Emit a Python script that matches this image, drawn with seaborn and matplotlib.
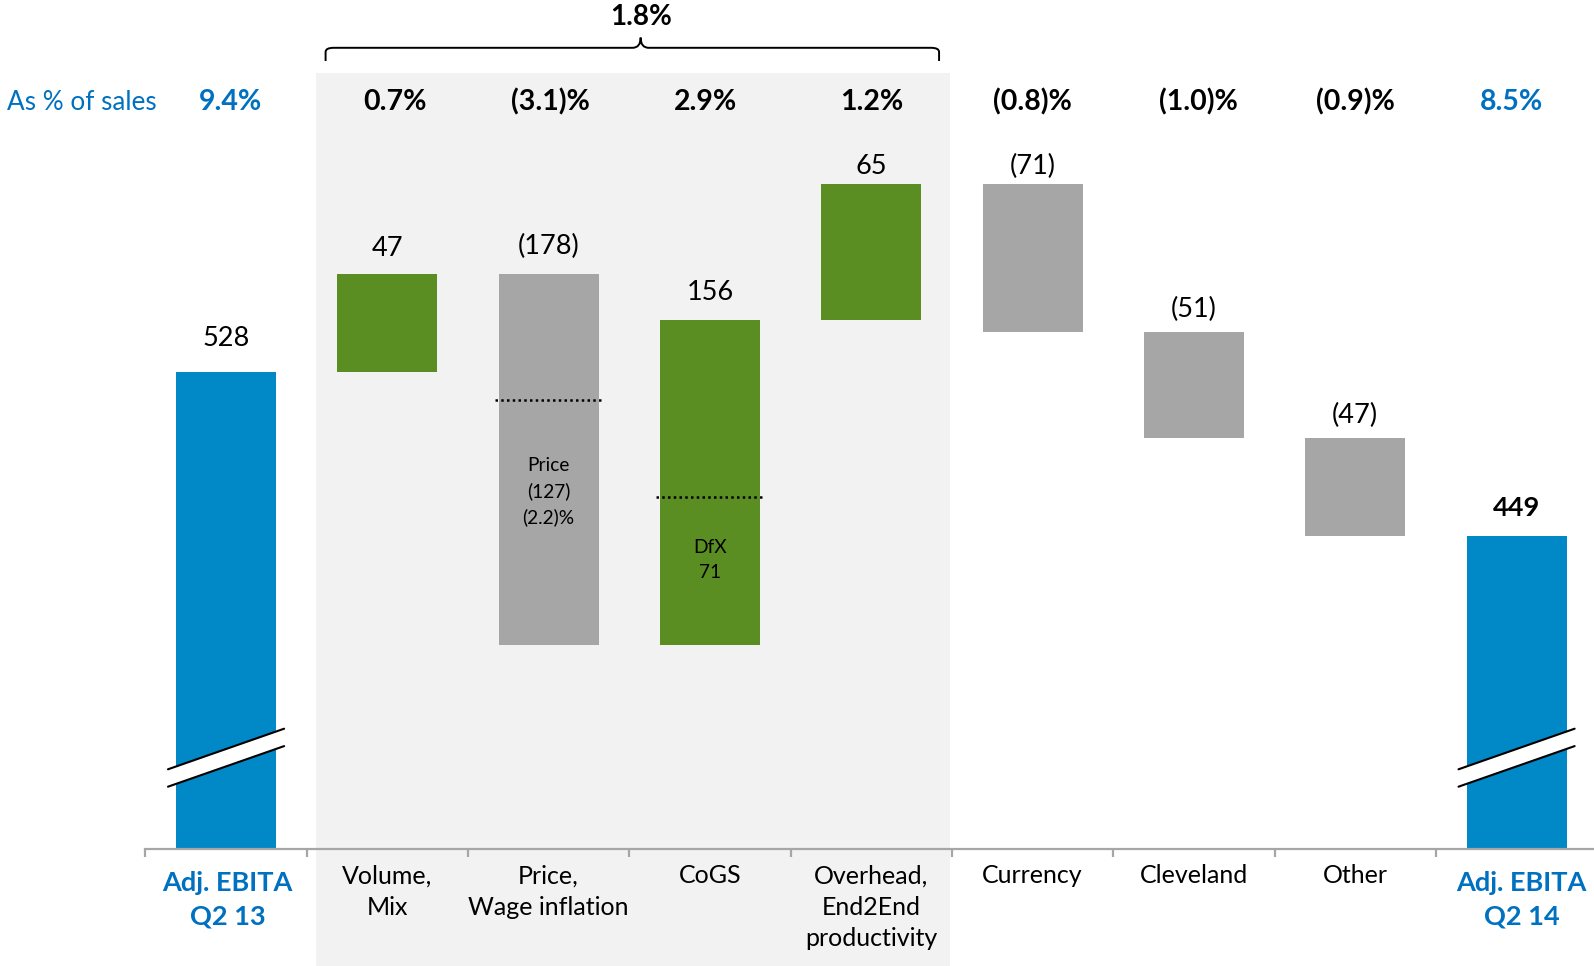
import matplotlib
matplotlib.use("Agg")
import matplotlib.pyplot as plt
import seaborn as sns
import numpy as np
import pandas as pd
from matplotlib.path import Path
from matplotlib.patches import PathPatch, Rectangle, Polygon

# ---- data ----
categories = ["Adj. EBITA\nQ2 13", "Volume,\nMix", "Price,\nWage inflation", "CoGS",
              "Overhead,\nEnd2End\nproductivity", "Currency", "Cleveland", "Other",
              "Adj. EBITA\nQ2 14"]
changes = [528, 47, -178, 156, 65, -71, -51, -47, 449]
kinds = ["total", "up", "down", "up", "up", "down", "down", "down", "total"]
value_labels = ["528", "47", "(178)", "156", "65", "(71)", "(51)", "(47)", "449"]
pct_of_sales = ["9.4%", "0.7%", "(3.1)%", "2.9%", "1.2%", "(0.8)%", "(1.0)%", "(0.9)%", "8.5%"]
group_pct = "1.8%"
price_lines = ["Price", "(127)", "(2.2)%"]
dfx_lines = ["DfX", "71"]
dfx_value = 71

# ---- colours ----
BLUE = "#0088C7"
BLUE_TXT = "#0070C0"
GREEN = "#5A8E22"
GREY = "#A6A6A6"
SHADE = "#F2F2F2"
AXIS = "#A6A6A6"
kind_color = {"total": BLUE, "up": GREEN, "down": GREY}

# waterfall bases
bases, heights = [], []
running = 0
for c, k in zip(changes, kinds):
    if k == "total":
        bases.append(0)
        heights.append(c)
        running = c
    else:
        bases.append(running)
        heights.append(c)
        running += c

df = pd.DataFrame({"step": categories, "change": heights, "base": bases})

sns.set_theme(style="white")
plt.rcParams["font.family"] = ["Lato", "DejaVu Sans"]

W, H = 1594, 966
BASE_PX = 849          # pixel row of the category axis
PPU = 2.084            # pixels per EBITA unit
Y0 = 299               # value at the (broken) baseline
Y1 = Y0 + BASE_PX / PPU


def v(y_px):
    """Convert a pixel row of the figure to a value on the y scale."""
    return Y0 + (BASE_PX - y_px) / PPU


fig = plt.figure(figsize=(W / 100, H / 100), dpi=100)
ax_left = 145.4 / W
ax = fig.add_axes([ax_left, (H - BASE_PX) / H, 1 - ax_left, BASE_PX / H])

BAR_W = 0.62
sns.barplot(data=df, x="step", y="change", order=categories, bottom=df["base"].values,
            width=BAR_W, color=BLUE, saturation=1, errorbar=None, ax=ax, zorder=3)
for patch, k in zip(ax.patches, kinds):
    patch.set_facecolor(kind_color[k])
    patch.set_edgecolor("none")

ax.set_xlim(-0.5, 8.48)
ax.set_ylim(Y0, Y1)

# shaded block behind the operational drivers
ax.add_patch(Rectangle((0.555, v(H)), 4.485 - 0.555, v(73.2) - v(H),
                       facecolor=SHADE, edgecolor="none", zorder=0, clip_on=False))

# axis styling
for s in ["left", "right", "top"]:
    ax.spines[s].set_visible(False)
ax.spines["bottom"].set_color(AXIS)
ax.spines["bottom"].set_linewidth(1.6)
ax.spines["bottom"].set_zorder(4)
ax.set_yticks([])
ax.set_xlabel("")
ax.set_ylabel("")
ax.set_xticks(range(len(categories)))
ax.set_xticklabels([c if k != "total" else "" for c, k in zip(categories, kinds)])
ax.set_xticks(np.arange(-0.5, len(categories) - 0.5, 1), minor=True)
ax.tick_params(axis="x", which="major", bottom=False, length=0, pad=11, labelsize=18,
               labelcolor="black")
ax.tick_params(axis="x", which="minor", bottom=True, length=6, width=1.6, color=AXIS,
               direction="out")
for t in ax.get_xticklabels():
    t.set_linespacing(1.45)

# start / end totals get bold blue captions, set a little lower
caption_dx = [0.01, 0.03]
for j, i in enumerate([n for n, k in enumerate(kinds) if k == "total"]):
    ax.annotate(categories[i], (i + caption_dx[j], Y0), xytext=(0, -16),
                textcoords="offset points", ha="center", va="top", fontsize=19.5,
                fontweight="bold", color=BLUE_TXT, linespacing=1.45,
                annotation_clip=False)

# value labels above bars (gap in points from the bar's upper edge)
label_gap_pt = [18.5, 13, 14.5, 14.5, 7.5, 7, 11, 11, 14.5]
for i, (b, h, lab) in enumerate(zip(bases, heights, value_labels)):
    top = max(b, b + h)
    ax.annotate(lab, (i, top), xytext=(0, label_gap_pt[i]), textcoords="offset points",
                ha="center", va="baseline", fontsize=19.5, color="black",
                fontweight="bold" if i == len(categories) - 1 else "normal", zorder=5)

# % of sales row
pct_dx = [0.025, 0.05, 0.012, -0.03, 0, 0, 0.025, 0, -0.03]
for i, p in enumerate(pct_of_sales):
    ax.text(i + pct_dx[i], v(99.6), p, ha="center", va="center_baseline", fontsize=20.5,
            fontweight="bold", color=BLUE_TXT if kinds[i] == "total" else "black",
            clip_on=False)
ax.annotate("As % of sales", xy=(7.1 / W, v(99.6)), xycoords=("figure fraction", "data"),
            ha="left", va="center_baseline", fontsize=18.8, color=BLUE_TXT)

# bracket over the operational drivers
x0, x1, xm = 0.617, 4.42, 2.57
yh, ye, yt = v(47.8), v(61), v(37.6)
rx, ry = 0.05, 2.0
verts = [(x0, ye), (x0, yh - ry), (x0, yh), (x0 + rx, yh),
         (xm - rx, yh), (xm, yh), (xm, yt),
         (xm, yh), (xm + rx, yh),
         (x1 - rx, yh), (x1, yh), (x1, yh - ry), (x1, ye)]
codes = [Path.MOVETO, Path.LINETO, Path.CURVE3, Path.CURVE3,
         Path.LINETO, Path.CURVE3, Path.CURVE3,
         Path.CURVE3, Path.CURVE3,
         Path.LINETO, Path.CURVE3, Path.CURVE3, Path.LINETO]
ax.add_patch(PathPatch(Path(verts, codes), facecolor="none", edgecolor="black",
                       lw=1.4, clip_on=False, zorder=5))
ax.text(xm + 0.005, v(14.2), group_pct, ha="center", va="center_baseline", fontsize=20,
        fontweight="bold", color="black", clip_on=False)

# sub-component dividers inside Price and CoGS bars
price_idx, cogs_idx = 2, 3
dfx_divider = bases[cogs_idx] + dfx_value
for idx, lvl in [(price_idx, v(400.5)), (cogs_idx, dfx_divider)]:
    ax.plot([idx - 0.335, idx + 0.335], [lvl, lvl], color="black", lw=1.8,
            linestyle=(0, (1, 1.3)), zorder=6)
ax.text(price_idx, v(492), "\n".join(price_lines), ha="center", va="center",
        fontsize=13.8, linespacing=1.55, color="black", zorder=6)
ax.text(cogs_idx, v(560), "\n".join(dfx_lines), ha="center", va="center",
        fontsize=13.8, linespacing=1.6, color="black", zorder=6)

# axis-break marks on the total bars
for i, k in enumerate(kinds):
    if k != "total":
        continue
    xl, xr = i - 0.36, i + 0.36
    cl, cr, half = v(778), v(737.4), 8.7 / PPU
    ax.add_patch(Polygon([(xl, cl - half), (xr, cr - half), (xr, cr + half), (xl, cl + half)],
                         closed=True, facecolor="white", edgecolor="none", zorder=7,
                         clip_on=False))
    for sgn in (-1, 1):
        ax.plot([xl, xr], [cl + sgn * half, cr + sgn * half], color="black", lw=1.5,
                zorder=8, clip_on=False)

fig.savefig("out.png", dpi=100, facecolor="white")
